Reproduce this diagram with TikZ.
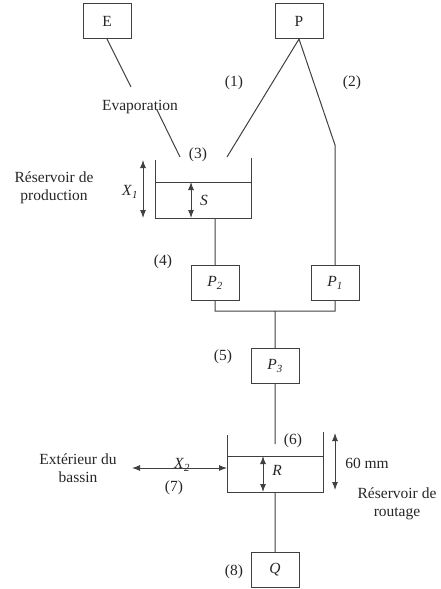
\documentclass[tikz,border=0pt]{standalone}
\usepackage{fontspec}
\setmainfont{Liberation Serif}
\usetikzlibrary{arrows.meta}

\newcommand{\var}[2]{\textit{#1}\textsubscript{\textit{#2}}}

\tikzset{
	bloc/.style={draw, minimum width=48pt, minimum height=35pt, inner sep=0pt},
	lbl/.style={inner sep=0pt, align=center},
	dbl/.style={{Latex[length=8pt,width=6pt]}-{Latex[length=8pt,width=6pt]}},
}

\begin{document}
\begin{tikzpicture}[x=1pt, y=-1pt, line width=1pt, draw=black!75, text=black!85,
	font=\fontsize{15.5}{17.5}\selectfont]
\useasboundingbox (0,0) rectangle (441,589);

\node[bloc] (E) at (107,21) {E};
\node[bloc] (P) at (299,21) {P};
\node[bloc] (P2) at (215,283) {\var{P}{2}};
\node[bloc] (P1) at (335,283) {\var{P}{1}};
\node[bloc] (P3) at (275,366) {\var{P}{3}};
\node[bloc] (Q) at (275,570) {\textit{Q}};

\coordinate (ev1) at (131,87);
\coordinate (ev2) at (157,110);
\coordinate (ev3) at (180,157);
\coordinate (pl1) at (227,157);
\coordinate (pl2) at (335,145);
\coordinate (sout) at (215,218);
\coordinate (jn) at (275,311);
\coordinate (rin) at (275,444);
\coordinate (rout) at (275,492);

% reservoir de production
\draw (155,160) -- (155,218) -- (251,218) -- (251,158);
\draw (155,182) -- (251,182);
% reservoir de routage
\draw (227,435) -- (227,492) -- (323,492) -- (323,432);
\draw (227,456) -- (323,456);

\path[draw]
(E.south) -- (ev1)
(ev2) -- (ev3)
(P.south) -- (pl1)
(P.south) -- (pl2) -- (P1.north)
(sout) -- (P2.north)
(P2.south) |- (jn) -| (P1.south)
(jn) -- (P3.north)
(P3.south) -- (rin)
(rout) -- (Q.north)
;

\draw[dbl] (143,160) -- (143,218);
\draw[dbl] (191,182) -- (191,218);
\draw[dbl] (263,456) -- (263,492);
\draw[dbl] (335,433) -- (335,490);
\draw[dbl] (132,468) -- (227,468);

\node[lbl] (l1) at (234,83) {(1)};
\node[lbl] (l2) at (352,83) {(2)};
\node[lbl] (l3) at (198,155) {(3)};
\node[lbl] (l4) at (163,262) {(4)};
\node[lbl] (l5) at (223,357) {(5)};
\node[lbl] (l6) at (293,441) {(6)};
\node[lbl] (l7) at (174,488) {(7)};
\node[lbl] (l8) at (234,572) {(8)};

\node[lbl] (evap) at (140,107) {Evaporation};
\node[lbl] (x1) at (130,192) {\var{X}{1}};
\node[lbl] (s) at (204,200) {\textit{S}};
\node[lbl] (r) at (277,470) {\textit{R}};
\node[lbl] (x2) at (182,465) {\var{X}{2}};
\node[lbl] (mm) at (367,463) {60 mm};

\node[lbl] (rprod) at (54,188) {Réservoir de\\production};
\node[lbl] (ext) at (78,468) {Extérieur du\\bassin};
\node[lbl] (rrout) at (397,504) {Réservoir de\\routage};
\end{tikzpicture}
\end{document}
